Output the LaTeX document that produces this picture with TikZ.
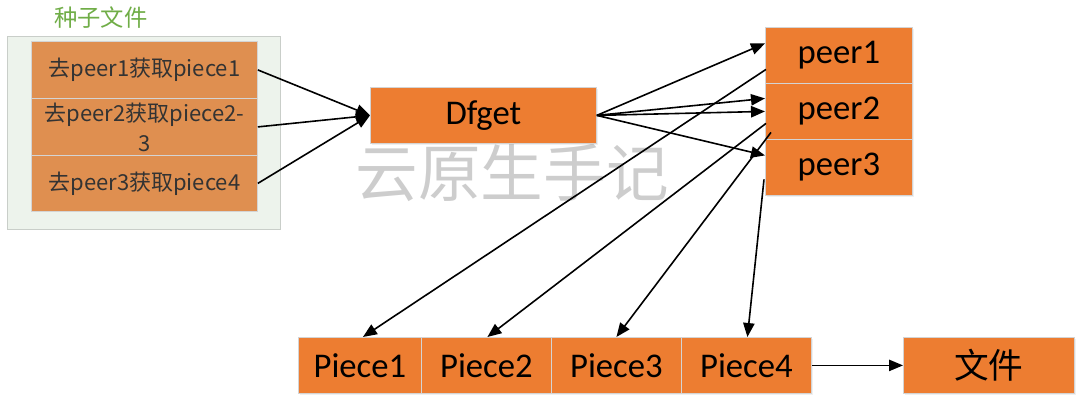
\documentclass[tikz,border=0pt]{standalone}
\usepackage{fontspec}
\setmainfont{Carlito}
\newfontfamily\cjk{Noto Sans CJK SC}
\usetikzlibrary{arrows.meta,calc,shadows}
\definecolor{orangemain}{HTML}{ED7D31}
\definecolor{orangelight}{HTML}{DF8F50}
\definecolor{panelfill}{HTML}{EDF3EC}
\definecolor{panelline}{HTML}{C9CEC9}
\definecolor{boxline}{HTML}{D4D4D4}
\definecolor{titlegreen}{RGB}{112,173,71}
\definecolor{wmgray}{HTML}{CDCDCD}
\definecolor{rowtext}{HTML}{333333}
\tikzset{
  mainbox/.style={draw=boxline, line width=0.6pt, fill=orangemain, inner sep=0pt, anchor=north west,
    font=\fontsize{26}{30}\selectfont, text=black,
    drop shadow={opacity=0.12, shadow xshift=1pt, shadow yshift=-1.5pt}},
  rowbox/.style={draw=boxline, line width=0.6pt, fill=orangelight, inner sep=0pt, anchor=north west,
    font=\cjk\fontsize{16.5}{22.5}\selectfont, text=rowtext, align=center},
  conn/.style={line width=1.2pt, -{Triangle[length=10.5pt,width=8.5pt]}},
  plainline/.style={line width=1.2pt}
}
\begin{document}
\begin{tikzpicture}[x=0.75pt,y=-0.75pt]
\useasboundingbox (0,0) rectangle (1083,405);
% watermark
\node[text=wmgray, font=\cjk\fontsize{47}{50}\selectfont] (wm) at (512,173) {云原生手记};
% left panel
\node[draw=panelline, line width=0.8pt, fill=panelfill, inner sep=0pt, anchor=north west,
  minimum width=273*0.75pt, minimum height=193*0.75pt] (panel) at (7,36) {};
\node[text=titlegreen, font=\cjk\fontsize{17.5}{20}\selectfont] (title) at (101,18) {种子文件};
\node[rowbox, minimum width=226*0.75pt, minimum height=57*0.75pt] (r1) at (31,41) {去peer1获取piece1};
\node[rowbox, minimum width=226*0.75pt, minimum height=57*0.75pt] (r2) at (31,98) {去peer2获取piece2-\\3};
\node[rowbox, minimum width=226*0.75pt, minimum height=56*0.75pt] (r3) at (31,155) {去peer3获取piece4};
% Dfget
\node[mainbox, minimum width=226*0.75pt, minimum height=56*0.75pt] (dfget) at (370,87) {Dfget};
% peers
\node[mainbox, minimum width=147*0.75pt, minimum height=56*0.75pt] (p1) at (765,27) {peer1};
\node[mainbox, minimum width=147*0.75pt, minimum height=56*0.75pt] (p2) at (765,83) {peer2};
\node[mainbox, minimum width=147*0.75pt, minimum height=56*0.75pt] (p3) at (765,139) {peer3};
% pieces
\node[mainbox, minimum width=123*0.75pt, minimum height=56*0.75pt] (pc1) at (298,337) {Piece1};
\node[mainbox, minimum width=130*0.75pt, minimum height=56*0.75pt] (pc2) at (421,337) {Piece2};
\node[mainbox, minimum width=130*0.75pt, minimum height=56*0.75pt] (pc3) at (551,337) {Piece3};
\node[mainbox, minimum width=130*0.75pt, minimum height=56*0.75pt] (pc4) at (681,337) {Piece4};
\node[mainbox, minimum width=171*0.75pt, minimum height=56*0.75pt, font=\cjk\fontsize{26}{30}\selectfont] (file) at (903,337) {文件};
% left arrows
\draw[conn] (r1.east) -- (dfget.west);
\draw[conn] (r2.east) -- (dfget.west);
\draw[conn] (r3.east) -- (dfget.west);
% Dfget to peers
\draw[conn] (dfget.east) -- ($(p1.west)+(0,-12)$);
\draw[conn] (dfget.east) -- ($(p2.west)+(0,-13)$);
\draw[conn] (dfget.east) -- (p2.west);
\draw[conn] (dfget.east) -- ($(p3.west)+(0,-12)$);
% peers to pieces
\draw[conn] ($(p1.west)+(1,14)$) -- ($(pc1.north)+(3,0)$);
\draw[conn] ($(p2.west)+(1,12)$) -- ($(pc2.north)+(1,0)$);
\draw[conn] ($(p2.west)+(6,21)$) -- (pc3.north);
\draw[conn] ($(p3.west)+(-1,12)$) -- ($(pc4.north)+(1,0)$);
% piece4 to file
\draw[conn] (pc4.east) -- (file.west);
\end{tikzpicture}
\end{document}
